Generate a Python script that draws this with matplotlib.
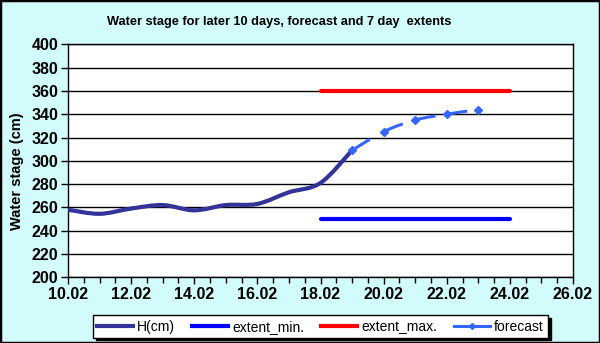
import matplotlib.pyplot as plt
import numpy as np
from matplotlib.lines import Line2D
from matplotlib.path import Path
from matplotlib.patches import PathPatch, Rectangle
from matplotlib.ticker import MultipleLocator, FuncFormatter

plt.rcParams['font.family'] = ['Liberation Sans', 'DejaVu Sans']

######### Data #########
# day of February -> water stage (cm)
h_days = [10, 11, 12, 13, 14, 15, 16, 17, 18, 19]
h_values = [258, 254.5, 259, 262, 257.5, 262, 263, 273, 281, 309]

forecast_days = [19, 20, 21, 22, 23]
forecast_values = [309, 325, 335, 340, 344]

extent_days = [18, 24]
extent_min = [250, 250]
extent_max = [360, 360]

title = 'Water stage for later 10 days, forecast and 7 day  extents'
ylabel = 'Water stage (cm)'
labels = ['H(cm)', 'extent_min.', 'extent_max.', 'forecast']

BG = '#D2FCFC'


def bezier_segments(xs, ys):
    # Bezier pieces through the points (Excel style "smoothed line")
    pts = np.column_stack([xs, ys]).astype(float)
    n = len(pts)
    segs = []
    for i in range(n - 1):
        p0 = pts[i - 1] if i > 0 else pts[i]
        p1 = pts[i]
        p2 = pts[i + 1]
        p3 = pts[i + 2] if i + 2 < n else pts[i + 1]
        c1 = p1 + (p2 - p0) / 6.0
        c2 = p2 - (p3 - p1) / 6.0
        segs.append([p1, c1, c2, p2])
    return segs


def smooth_path(xs, ys):
    segs = bezier_segments(xs, ys)
    verts = [segs[0][0]]
    codes = [Path.MOVETO]
    for s in segs:
        verts += s[1:]
        codes += [Path.CURVE4] * 3
    return Path(verts, codes)


def main():
    fig = plt.figure(figsize=(6, 3.43), dpi=100, facecolor=BG)
    ax = fig.add_axes([68 / 600, 1 - 277.3 / 343, 505 / 600, 233 / 343])
    ax.set_facecolor('white')

    # H(cm), smoothed
    h_patch = PathPatch(smooth_path(h_days, h_values), facecolor='none',
                        edgecolor='#333399', lw=3.0, capstyle='round', zorder=4)
    ax.add_patch(h_patch)

    ax.plot(extent_days, extent_min, color='#0000FF', lw=3.0,
            solid_capstyle='round', zorder=3)
    ax.plot(extent_days, extent_max, color='#FF0000', lw=3.0,
            solid_capstyle='round', zorder=3)

    # forecast: dash pattern restarts at each point, like Excel
    for seg in bezier_segments(forecast_days, forecast_values):
        p = Path(seg, [Path.MOVETO, Path.CURVE4, Path.CURVE4, Path.CURVE4])
        ax.add_patch(PathPatch(p, facecolor='none', edgecolor='#3366FF', lw=2.2,
                               linestyle=(0, (6.8, 10)), capstyle='butt', zorder=5))
    ax.plot(forecast_days, forecast_values, linestyle='none', marker='D',
            markersize=4.5, color='#3366FF', zorder=6)

    ax.set_xlim(10, 26)
    ax.set_ylim(200, 400)
    ax.xaxis.set_major_locator(MultipleLocator(2))
    ax.xaxis.set_minor_locator(MultipleLocator(0.5))
    ax.yaxis.set_major_locator(MultipleLocator(20))
    ax.xaxis.set_major_formatter(FuncFormatter(lambda v, p: '%d.02' % v))
    ax.yaxis.grid(True, color='black', lw=1.0)
    ax.set_axisbelow(True)
    for s in ax.spines.values():
        s.set_color('black')
        s.set_linewidth(1.0)
    ax.tick_params(axis='both', which='major', direction='out', length=5,
                   width=1, labelsize=11.5, pad=2)
    ax.tick_params(axis='x', which='minor', direction='out', length=4, width=1)
    ax.tick_params(axis='y', which='minor', left=False)
    for lab in ax.get_xticklabels() + ax.get_yticklabels():
        lab.set_fontweight('bold')

    fig.text(279 / 600, 1 - 22 / 343, title, ha='center', va='center',
             fontsize=9.2, fontweight='bold')
    fig.text(17 / 600, 1 - 171 / 343, ylabel, ha='center', va='center',
             rotation=90, fontsize=10.5, fontweight='bold')

    handles = [
        Line2D([], [], color='#333399', lw=3.0),
        Line2D([], [], color='#0000FF', lw=3.0),
        Line2D([], [], color='#FF0000', lw=3.0),
        Line2D([], [], color='#3366FF', lw=2.2, marker='D', markersize=3),
    ]
    leg = fig.legend(handles, labels, loc='center', bbox_to_anchor=(0.534, 0.048),
                     ncol=4, fontsize=10, frameon=True, fancybox=False,
                     shadow={'color': 'black', 'alpha': 1}, handlelength=2.6,
                     handletextpad=0.3, columnspacing=1.2, borderpad=0.3,
                     borderaxespad=0)
    leg.get_frame().set_edgecolor('black')
    leg.get_frame().set_linewidth(1.0)

    # black figure border
    fig.patches.append(Rectangle((0, 0), 1, 1, transform=fig.transFigure,
                                 fill=False, edgecolor='black', lw=2.5))

    fig.savefig('out.png', dpi=100, facecolor=BG)


if __name__ == '__main__':
    main()
